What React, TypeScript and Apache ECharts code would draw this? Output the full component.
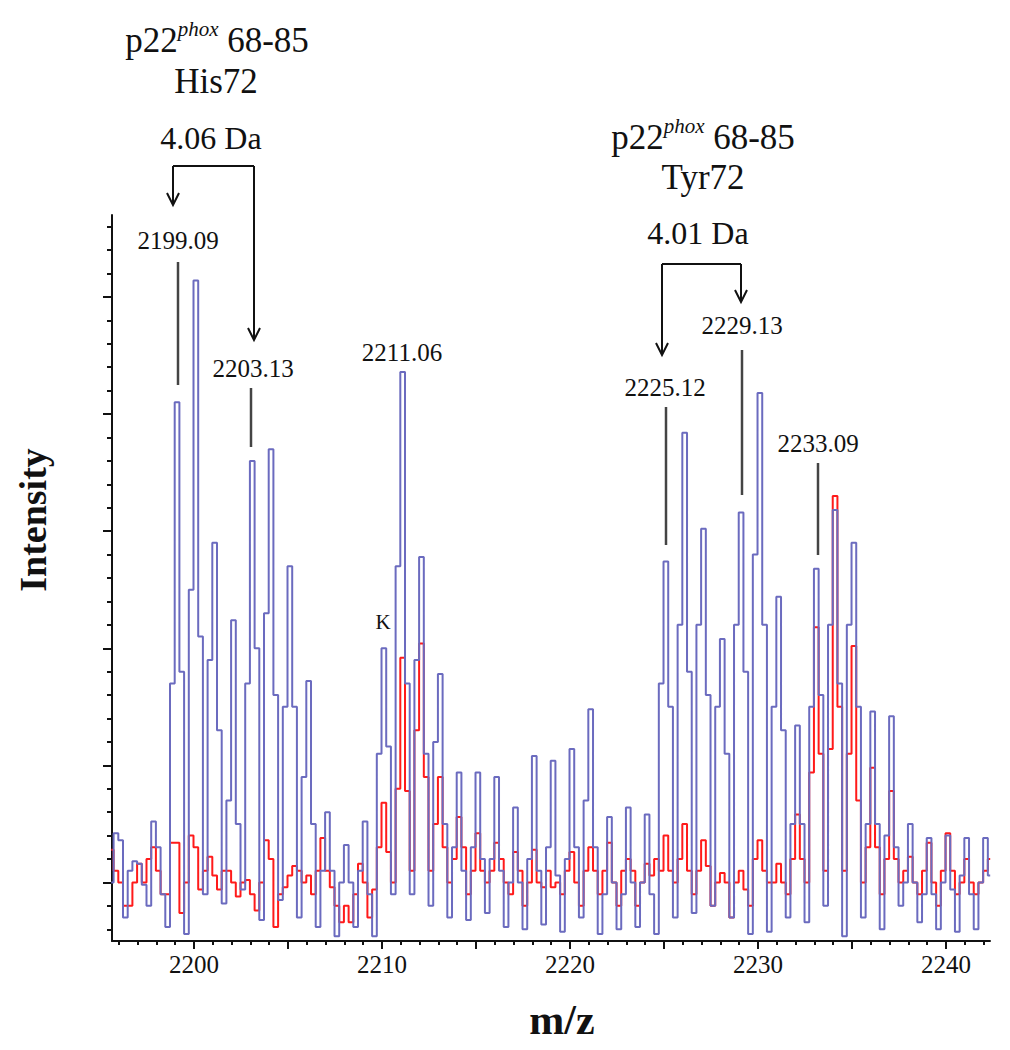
import React, { useEffect, useRef } from "react";
import * as echarts from "echarts";

// m/z sampling grid of the two traces
const MZ_START = 2195.6;
const MZ_STEP = 0.25;

// Blue trace (sample at n+0.10, n+0.35, n+0.60, n+0.85)
const blueIntensity = [
  2.5, 4.6,
  4.3, 1.0, 3.0, 3.4, // 2196
  3.3, 2.4, 1.5, 5.1, // 2197
  4.0, 2.0, 0.6, 11.0, // 2198
  23.0, 11.5, 0.3, 15.0, // 2199
  28.2, 13.0, 2.0, 12.0, // 2200
  17.0, 9.0, 1.6, 6.0, // 2201
  13.7, 5.0, 2.2, 11.0, // 2202
  20.5, 12.5, 0.9, 14.0, // 2203
  21.0, 10.5, 1.75, 10.0, // 2204
  16.0, 10.0, 1.0, 7.0, // 2205
  11.1, 5.0, 0.6, 3.0, // 2206
  5.5, 3.0, 0.2, 2.5, // 2207
  4.1, 2.5, 0.6, 3.0, // 2208
  5.1, 2.0, 0.2, 8.0, // 2209
  12.5, 8.3, 2.0, 16.0, // 2210
  24.3, 11.0, 2.0, 12.0, // 2211
  16.4, 8.0, 1.5, 8.5, // 2212
  11.4, 5.0, 1.0, 4.0, // 2213
  7.2, 3.0, 0.9, 4.0, // 2214
  7.2, 3.5, 1.2, 3.5, // 2215
  7.0, 3.0, 0.6, 2.5, // 2216
  5.7, 2.5, 0.5, 3.5, // 2217
  7.9, 3.0, 0.7, 4.0, // 2218
  7.7, 2.8, 0.4, 3.5, // 2219
  8.2, 4.0, 1.0, 6.0, // 2220
  9.9, 4.0, 0.3, 2.0, // 2221
  5.3, 2.5, 0.5, 2.0, // 2222
  5.7, 2.5, 0.6, 2.5, // 2223
  5.4, 2.0, 0.3, 11.0, // 2224
  16.2, 10.0, 1.0, 13.5, // 2225
  21.7, 11.5, 1.2, 13.5, // 2226
  17.6, 10.5, 1.5, 10.0, // 2227
  12.9, 8.0, 1.0, 13.5, // 2228
  18.3, 11.5, 0.3, 16.5, // 2229
  23.4, 13.5, 0.4, 10.0, // 2230
  14.7, 9.0, 1.0, 5.0, // 2231
  9.2, 5.0, 0.8, 10.0, // 2232
  15.9, 10.5, 1.5, 13.5, // 2233
  18.4, 11.0, 0.2, 13.5, // 2234
  17.0, 10.0, 1.0, 5.0, // 2235
  9.8, 5.0, 0.5, 4.5, // 2236
  9.6, 4.0, 1.5, 2.5, // 2237
  5.0, 2.5, 0.8, 2.0, // 2238
  4.4, 2.0, 0.5, 2.5, // 2239
  4.5, 2.2, 0.4, 2.8, // 2240
  4.4, 2.0, 0.5, 2.5, // 2241
  4.4, 2.8, // 2242
];

// Red trace, same sampling
const redIntensity = [
  3.9, 3.0,
  2.5, 1.5, 1.5, 2.5, // 2196
  3.3, 2.5, 3.5, 4.0, // 2197
  3.0, 2.0, 2.0, 4.2, // 2198
  4.2, 1.2, 2.5, 4.5, // 2199
  4.0, 2.2, 3.0, 3.6, // 2200
  2.8, 2.2, 3.0, 3.0, // 2201
  2.5, 1.9, 2.5, 2.6, // 2202
  2.0, 1.3, 2.5, 4.3, // 2203
  3.5, 0.6, 2.0, 2.3, // 2204
  2.8, 3.2, 3.0, 2.5, // 2205
  2.8, 2.0, 3.0, 4.4, // 2206
  3.0, 2.3, 1.5, 0.8, // 2207
  1.5, 0.8, 2.0, 3.3, // 2208
  2.5, 1.0, 2.2, 4.0, // 2209
  5.9, 3.8, 2.5, 6.5, // 2210
  12.1, 6.4, 3.0, 9.0, // 2211
  12.7, 7.0, 3.0, 5.0, // 2212
  7.0, 4.0, 2.5, 3.5, // 2213
  5.3, 4.0, 2.0, 3.0, // 2214
  4.6, 3.0, 2.5, 3.0, // 2215
  4.2, 3.5, 2.5, 2.0, // 2216
  3.8, 3.0, 1.5, 2.5, // 2217
  3.9, 2.5, 2.3, 3.0, // 2218
  2.3, 2.5, 2.0, 3.0, // 2219
  3.8, 2.5, 1.5, 3.0, // 2220
  4.0, 3.0, 2.0, 3.0, // 2221
  4.2, 2.5, 1.5, 3.0, // 2222
  3.5, 3.0, 1.5, 2.5, // 2223
  3.3, 2.8, 3.5, 3.0, // 2224
  4.5, 3.0, 2.5, 3.5, // 2225
  5.0, 3.0, 2.0, 3.0, // 2226
  4.3, 3.2, 1.5, 2.5, // 2227
  2.9, 2.5, 1.0, 2.5, // 2228
  3.0, 2.2, 1.5, 3.5, // 2229
  4.3, 3.0, 2.5, 2.5, // 2230
  3.3, 2.5, 2.0, 3.5, // 2231
  5.4, 3.5, 2.5, 7.2, // 2232
  13.4, 8.0, 3.0, 8.2, // 2233
  19.0, 10.0, 3.0, 8.0, // 2234
  12.6, 6.0, 2.5, 4.0, // 2235
  7.4, 4.0, 2.0, 3.5, // 2236
  6.4, 3.5, 2.5, 3.0, // 2237
  3.6, 2.5, 2.0, 3.0, // 2238
  4.2, 2.5, 1.5, 3.0, // 2239
  4.6, 3.0, 2.0, 2.5, // 2240
  3.5, 2.5, 2.0, 2.5, // 2241
  3.0, 3.5, // 2242
];

const xLabelValues = [2200, 2210, 2220, 2230, 2240];
const xMajorTicks = [2200, 2205, 2210, 2215, 2220, 2225, 2230, 2235, 2240];
const xMinorTicks = [
  2196, 2197, 2198, 2199, 2200, 2201, 2202, 2203, 2204, 2205, 2206, 2207, 2208, 2209,
  2210, 2211, 2212, 2213, 2214, 2215, 2216, 2217, 2218, 2219, 2220, 2221, 2222, 2223,
  2224, 2225, 2226, 2227, 2228, 2229, 2230, 2231, 2232, 2233, 2234, 2235, 2236, 2237,
  2238, 2239, 2240, 2241, 2242,
];
const yMajorTicks = [2.5, 7.5, 12.5, 17.5, 22.5, 27.5];
const yMinorTicks = [
  0.5, 1.5, 2.5, 3.5, 4.5, 5.5, 6.5, 7.5, 8.5, 9.5, 10.5, 11.5, 12.5, 13.5, 14.5, 15.5,
  16.5, 17.5, 18.5, 19.5, 20.5, 21.5, 22.5, 23.5, 24.5, 25.5, 26.5, 27.5, 28.5, 29.5, 30.5,
];

const peakLabels = ["2199.09", "2203.13", "2211.06", "2225.12", "2229.13", "2233.09"];

const SERIF = "'Liberation Serif', 'Times New Roman', serif";
const INK = "#111";

export default function App() {
  const ref = useRef<HTMLDivElement>(null);

  useEffect(() => {
    if (!ref.current) return;
    const chart = echarts.init(ref.current, null, { renderer: "svg" });
    const blueData = blueIntensity.map((v, i) => [MZ_START + i * MZ_STEP, v]);
    const redData = redIntensity.map((v, i) => [MZ_START + i * MZ_STEP, v]);
    const xMin = 2195.64;
    const xMax = 2242.34;

    const tickStyle = { color: INK, width: 2 };

    const lbl = (text: string, x: number, y: number, size = 25) => ({
      type: "text",
      x,
      y,
      style: {
        text,
        fill: INK,
        font: `${size}px ${SERIF}`,
        textAlign: "center",
        textVerticalAlign: "middle",
      },
      z: 10,
    });
    const vline = (x: number, y1: number, y2: number, color = "#444", w = 2.5) => ({
      type: "line",
      shape: { x1: x, y1, x2: x, y2 },
      style: { stroke: color, lineWidth: w },
      z: 10,
    });
    const hline = (x1: number, x2: number, y: number) => ({
      type: "line",
      shape: { x1, y1: y, x2, y2: y },
      style: { stroke: INK, lineWidth: 2 },
      z: 10,
    });
    const arrowHead = (x: number, y: number) => ({
      type: "polyline",
      shape: { points: [[x - 6, y - 12], [x, y], [x + 6, y - 12]] },
      style: { stroke: INK, lineWidth: 2, fill: "none" },
      z: 10,
    });
    const richTitle = (x: number, y: number) => ({
      type: "text",
      x,
      y,
      style: {
        text: "{a|p22}{b|phox}{a| 68-85}",
        textAlign: "center",
        textVerticalAlign: "middle",
        rich: {
          a: { fontFamily: SERIF, fontSize: 35, fill: INK, lineHeight: 40, verticalAlign: "bottom" },
          b: { fontFamily: SERIF, fontSize: 21, fontStyle: "italic", fill: INK, lineHeight: 40, verticalAlign: "top" },
        },
      },
      z: 10,
    });

    chart.setOption({
      animation: false,
      backgroundColor: "#ffffff",
      grid: { left: 112, top: 215, right: 20, bottom: 109, containLabel: false },
      xAxis: [
        {
          type: "value",
          min: xMin,
          max: xMax,
          position: "bottom",
          axisLine: { onZero: false, lineStyle: { color: INK, width: 2 } },
          splitLine: { show: false },
          axisTick: { customValues: xMajorTicks, length: 8, lineStyle: tickStyle },
          axisLabel: {
            customValues: xLabelValues,
            formatter: (v: number) => String(Math.round(v)),
            fontFamily: SERIF,
            fontSize: 25,
            color: INK,
            margin: 11,
          },
        },
        {
          type: "value",
          min: xMin,
          max: xMax,
          position: "bottom",
          axisLine: { show: false },
          splitLine: { show: false },
          axisLabel: { show: false },
          axisTick: { customValues: xMinorTicks, length: 4, lineStyle: tickStyle },
        },
      ],
      yAxis: [
        {
          type: "value",
          min: 0,
          max: 31,
          position: "left",
          axisLine: { show: true, onZero: false, lineStyle: { color: INK, width: 2 } },
          splitLine: { show: false },
          axisLabel: { show: false },
          axisTick: { customValues: yMajorTicks, length: 9, lineStyle: tickStyle },
        },
        {
          type: "value",
          min: 0,
          max: 31,
          position: "left",
          axisLine: { show: false },
          splitLine: { show: false },
          axisLabel: { show: false },
          axisTick: { customValues: yMinorTicks, length: 5, lineStyle: tickStyle },
        },
      ],
      series: [
        {
          type: "line",
          name: "red",
          data: redData,
          step: "middle",
          symbol: "none",
          lineStyle: { color: "#ff1a1a", width: 2 },
          z: 2,
        },
        {
          type: "line",
          name: "blue",
          data: blueData,
          step: "middle",
          symbol: "none",
          lineStyle: { color: "#6b6bbf", width: 2 },
          z: 3,
        },
      ],
      graphic: [
        // left group
        richTitle(217, 38),
        lbl("His72", 216, 81, 35),
        lbl("4.06 Da", 211, 138, 32),
        hline(173, 254, 166),
        vline(173, 166, 205, INK, 2),
        arrowHead(173, 205),
        vline(254, 166, 340, INK, 2),
        arrowHead(254, 340),
        // right group
        richTitle(703, 135),
        lbl("Tyr72", 703, 177, 35),
        lbl("4.01 Da", 698, 233, 32),
        hline(662, 741, 264),
        vline(662, 264, 355, INK, 2),
        arrowHead(662, 355),
        vline(741, 264, 302, INK, 2),
        arrowHead(741, 302),
        // peak labels
        lbl(peakLabels[0], 178, 240),
        vline(178, 262, 385),
        lbl(peakLabels[1], 253, 368),
        vline(251, 388, 447),
        lbl(peakLabels[2], 402, 352),
        lbl(peakLabels[3], 665, 387),
        vline(666, 407, 545),
        lbl(peakLabels[4], 742, 325),
        vline(742, 350, 495),
        lbl(peakLabels[5], 818, 443),
        vline(818, 463, 555),
        lbl("K", 383, 622, 21),
        // axis titles
        {
          type: "text",
          x: 33,
          y: 520,
          rotation: Math.PI / 2,
          style: {
            text: "Intensity",
            fill: INK,
            font: `bold 38px ${SERIF}`,
            textAlign: "center",
            textVerticalAlign: "middle",
          },
        },
        {
          type: "text",
          x: 562,
          y: 1020,
          style: {
            text: "m/z",
            fill: INK,
            font: `bold 42px ${SERIF}`,
            textAlign: "center",
            textVerticalAlign: "middle",
          },
        },
      ],
    });

    return () => chart.dispose();
  }, []);

  return (
    <div
      ref={ref}
      style={{ position: "absolute", left: 0, top: 0, width: 1010, height: 1050, background: "#fff" }}
    />
  );
}
